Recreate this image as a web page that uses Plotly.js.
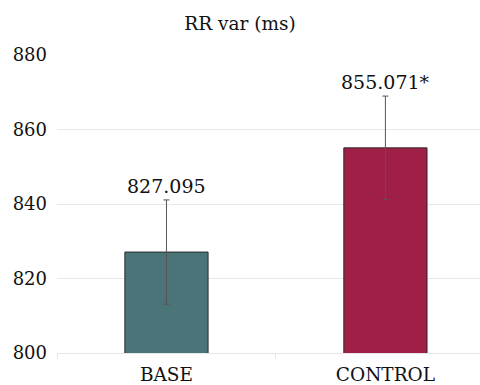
<!DOCTYPE html>
<html><head><meta charset="utf-8">
<script src="https://cdn.plot.ly/plotly-3.0.1.min.js"></script>
<style>html,body{margin:0;padding:0;background:#fff}</style>
</head><body>
<div id="chart" style="width:480px;height:385px"></div>
<script>
const categories = ["BASE", "CONTROL"];
const values = [827.095, 855.071];
const errors = [14, 13.9];
const labels = ["827.095", "855.071*"];
const colors = ["#4a7478", "#a01f46"];
const yTicks = [800, 820, 840, 860, 880];

const font = "DejaVu Serif";

const bars = {
  type: "bar",
  x: categories,
  y: values,
  width: 0.38,
  marker: {color: colors, line: {color: "#2a2a2a", width: 1}},
  error_y: {type: "data", array: errors, visible: true, color: "#555555", thickness: 1, width: 3},
  hoverinfo: "none",
  showlegend: false
};

const annotations = categories.map((c, i) => ({
  x: c, y: values[i] + errors[i], text: labels[i], showarrow: false,
  yanchor: "bottom", yshift: 1, font: {family: font, size: 19, color: "#111"}
}));

const layout = {
  width: 480, height: 385,
  margin: {l: 57, r: 0, t: 55, b: 32},
  paper_bgcolor: "#fff", plot_bgcolor: "#fff",
  font: {family: font},
  title: {text: "RR var (ms)", font: {family: font, size: 18.5, color: "#111"}, x: 0.5, xanchor: "center", y: 0.94, yanchor: "middle"},
  xaxis: {
    range: [-0.5, 1.432], showgrid: false, zeroline: false,
    showline: true, linecolor: "#e6e6e6", linewidth: 1,
    ticks: "outside", tickson: "boundaries", ticklen: 5, tickcolor: "#e6e6e6",
    ticklabelstandoff: 5,
    tickfont: {family: font, size: 18.5, color: "#111"}
  },
  yaxis: {
    range: [800, 880], tickvals: yTicks, ticktext: yTicks.map(String),
    showgrid: true, gridcolor: "#e8e8e8", zeroline: false, showline: false,
    ticks: "", ticklabelstandoff: 9,
    tickfont: {family: font, size: 18, color: "#111"}
  },
  annotations: annotations
};

Plotly.newPlot("chart", [bars], layout, {displayModeBar: false, staticPlot: true});
</script>
</body></html>
